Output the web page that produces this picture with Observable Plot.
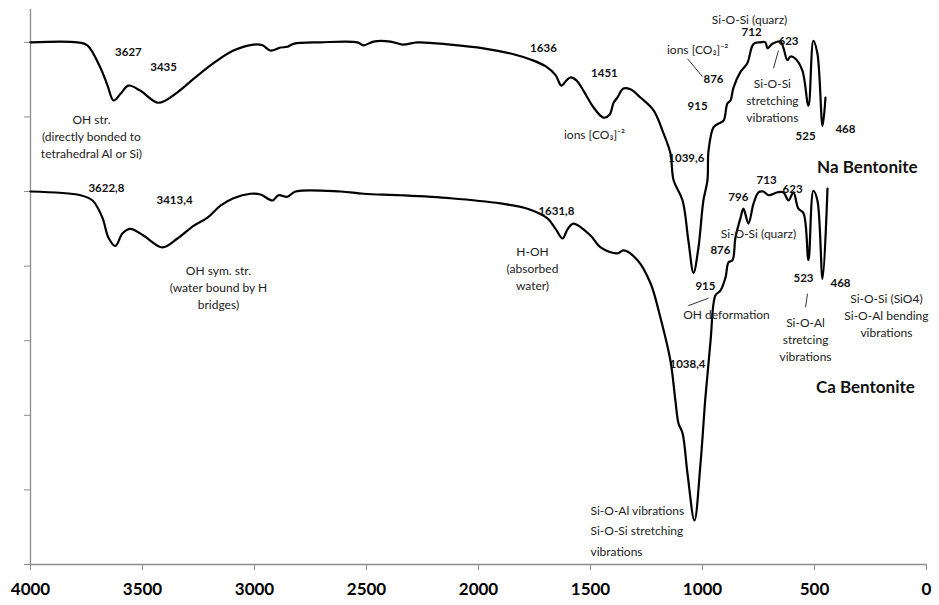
<!DOCTYPE html>
<html>
<head>
<meta charset="utf-8">
<script src="https://cdn.jsdelivr.net/npm/d3@7"></script>
<script src="https://cdn.jsdelivr.net/npm/@observablehq/plot@0.6"></script>
<style>
  html, body { margin: 0; padding: 0; background: #fff; }
  #chart svg { display: block; }
</style>
</head>
<body>
<div id="chart"></div>
<script>
// ---- Data (wavenumber cm-1, transmittance in arbitrary % units) ----
const naWavenumber = [4000,3790,3746,3688,3656,3629,3598,3563,3509,3429,3344,3272,3183,3094,3004,2964,2929,2884,2853,2826,2705,2540,2513,2469,2393,2339,2272,2125,1978,1844,1768,1701,1656,1630,1607,1589,1563,1531,1487,1442,1415,1397,1380,1353,1322,1277,1219,1174,1143,1129,1089,1063,1040,1018,996,978,973,951,929,906,889,875,862,831,800,772,741,719,710,688,652,639,621,607,585,554,527,505,487,464,451];
const naT = [70.0,70.0,69.6,66.6,64.2,62.2,63.1,64.2,63.5,61.9,63.3,65.1,67.2,68.9,69.7,69.6,68.9,69.3,69.4,69.8,70.0,70.0,69.6,70.1,70.1,69.7,70.0,69.7,69.2,68.4,67.7,66.8,65.6,64.2,64.9,65.3,64.9,63.5,61.3,59.9,60.3,61.9,62.6,63.8,63.7,62.6,60.9,57.8,55.1,51.5,48.8,43.4,39.1,42.5,48.8,51.5,55.5,58.6,59.1,59.5,61.8,62.2,63.9,66.0,67.2,69.8,70.0,70.0,69.2,69.8,70.1,69.3,67.6,68.1,67.8,66.2,61.5,70.2,68.5,58.8,62.6];

const caWavenumber = [4000,3777,3723,3679,3652,3621,3589,3554,3496,3411,3344,3272,3210,3152,3094,3018,2973,2920,2893,2853,2817,2616,2513,2348,2125,1902,1781,1692,1656,1625,1603,1576,1500,1455,1380,1353,1290,1232,1188,1143,1121,1107,1089,1067,1036,1009,987,964,942,920,897,884,866,853,830,817,795,772,750,728,705,665,639,616,594,572,549,527,505,487,464,442];
const caT = [50.0,49.5,48.8,46.5,43.8,42.7,44.4,45.0,44.1,42.5,43.7,45.4,46.5,48.1,49.1,49.7,49.6,48.8,49.5,49.3,50.0,50.0,49.7,49.5,49.1,48.4,47.7,46.4,45.0,43.7,44.9,45.7,44.1,42.5,41.7,42.1,40.8,37.7,33.1,27.3,22.0,18.9,17.6,12.2,5.9,13.5,22.4,30.0,36.1,36.7,38.5,40.5,40.8,43.8,46.5,47.7,45.7,48.4,49.9,50.0,49.5,49.9,49.9,48.8,49.9,47.7,47.1,40.8,50.1,48.8,38.3,50.4];

const xTicks = [4000,3500,3000,2500,2000,1500,1000,500,0];
const yTicks = [0,10,20,30,40,50,60,70];

// Peak labels (bold numbers)
const peakText = ["3627","3435","1636","1451","1039,6","915","876","712","623","525","468",
                  "3622,8","3413,4","1631,8","1038,4","915","876","796","713","623","523","468"];
const peakX = [3563,3406,1710,1438,1072,1022,951,781,616,540,362,
               3661,3357,1652,1067,987,920,840,714,598,549,384];
const peakY = [68.6,66.6,69.2,65.8,54.4,61.4,65.0,71.3,70.2,57.4,58.4,
               50.4,48.8,47.3,26.9,37.3,42.1,49.2,51.5,50.3,38.3,37.7];

// Assignment notes (regular text)
const noteText = ["OH str.\n(directly bonded to\ntetrahedral Al or Si)","ions [CO₃]⁻²","ions [CO₃]⁻²","Si-O-Si (quarz)","Si-O-Si\nstretching\nvibrations",
                  "OH sym. str.\n(water bound by H\nbridges)","H-OH\n(absorbed\nwater)","OH deformation","Si-O-Si (quarz)","Si-O-Al\nstretcing\nvibrations","Si-O-Si (SiO4)\nSi-O-Al bending\nvibrations"];
const noteX = [3728,1482,1022,790,688,3161,1759,893,750,540,179];
const noteY = [57.5,57.8,69.2,73.2,62.3,37.3,39.8,33.6,44.5,30.3,33.5];

const leftNoteText = ["Si-O-Al vibrations\nSi-O-Si stretching\nvibrations"];
const leftNoteX = [1500];
const leftNoteY = [4.8];

const seriesName = ["Na Bentonite","Ca Bentonite"];
const seriesLabelX = [264,273];
const seriesLabelY = [53.2,23.7];

// Leader lines
const leaderX1 = [1067,661,1063,531];
const leaderY1 = [67.8,68.9,34.7,36.3];
const leaderX2 = [1000,683,973,540];
const leaderY2 = [65.4,66.5,35.7,34.5];

// ---- Build tables ----
const spectra = [
  ...naWavenumber.map((w,i)=>({w, t: naT[i], s: seriesName[0]})),
  ...caWavenumber.map((w,i)=>({w, t: caT[i], s: seriesName[1]}))
];
const peaks = peakText.map((text,i)=>({text, x: peakX[i], y: peakY[i]}));
const notes = noteText.map((text,i)=>({text, x: noteX[i], y: noteY[i]}));
const leftNotes = leftNoteText.map((text,i)=>({text, x: leftNoteX[i], y: leftNoteY[i]}));
const series = seriesName.map((text,i)=>({text, x: seriesLabelX[i], y: seriesLabelY[i]}));
const leaders = leaderX1.map((x1,i)=>({x1, y1: leaderY1[i], x2: leaderX2[i], y2: leaderY2[i]}));

const FONT = "Lato, 'Open Sans', sans-serif";
const AXIS = "#8c8c8c";

const chart = Plot.plot({
  width: 939,
  height: 605,
  marginLeft: 30,
  marginRight: 13,
  marginTop: 9,
  marginBottom: 41,
  style: {fontFamily: FONT, background: "#fff", color: "#000"},
  x: {domain: [4000, 0]},
  y: {domain: [0, 74.4]},
  marks: [
    Plot.ruleX([4000], {stroke: AXIS, strokeWidth: 1.3}),
    Plot.ruleY([0], {stroke: AXIS, strokeWidth: 1.3}),
    Plot.axisX({ticks: xTicks, tickSize: 6, tickPadding: 12, stroke: AXIS, fill: "#000",
      fontSize: 17, fontWeight: "bold", tickFormat: d => String(d), label: null}),
    Plot.axisY({ticks: yTicks, tickSize: 6, stroke: AXIS, tickFormat: () => "", label: null}),
    Plot.line(spectra, {x: "w", y: "t", z: "s", stroke: "#000", strokeWidth: 2.2, curve: "catmull-rom"}),
    Plot.link(leaders, {x1: "x1", y1: "y1", x2: "x2", y2: "y2", stroke: "#333", strokeWidth: 1}),
    Plot.text(peaks, {x: "x", y: "y", text: "text", fontSize: 11.5, fontWeight: "bold", fill: "#111"}),
    Plot.text(notes, {x: "x", y: "y", text: "text", fontSize: 12, fill: "#222", lineHeight: 1.42, lineAnchor: "middle"}),
    Plot.text(leftNotes, {x: "x", y: "y", text: "text", fontSize: 12, fill: "#222", lineHeight: 1.7, lineAnchor: "middle", textAnchor: "start"}),
    Plot.text(series, {x: "x", y: "y", text: "text", fontSize: 17, fontWeight: "bold", fill: "#111"})
  ]
});
document.getElementById("chart").appendChild(chart);
</script>
</body>
</html>
